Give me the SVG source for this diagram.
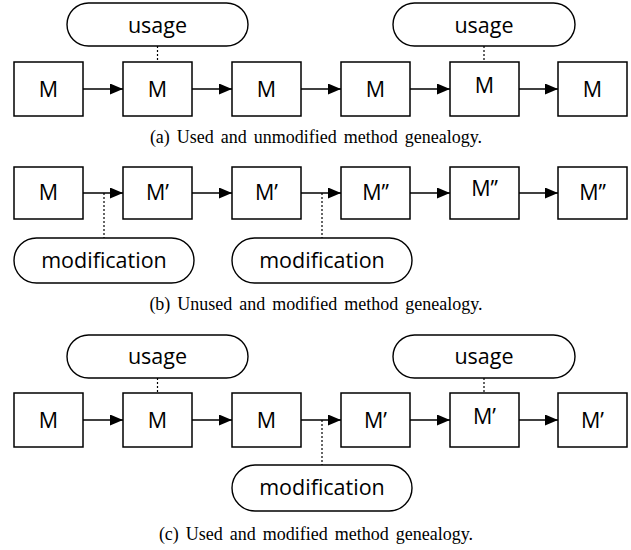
<svg xmlns="http://www.w3.org/2000/svg" width="631" height="550" viewBox="0 0 631 550">
<defs>
<style>
.box{fill:#fff;stroke:#000;stroke-width:1.5}
.pill{fill:#fff;stroke:#000;stroke-width:1.4}
.lbl{font-family:"Open Sans","DejaVu Sans",sans-serif;font-size:21.5px;fill:#000;text-anchor:middle}
.cap{font-family:"Liberation Serif","Times New Roman",serif;font-size:18px;fill:#000;text-anchor:middle;word-spacing:2.5px}
.arr{stroke:#000;stroke-width:1.5;fill:none;marker-end:url(#ah)}
.dash{stroke:#000;stroke-width:1.2;stroke-dasharray:2,2;fill:none}
</style>
<marker id="ah" markerWidth="13" markerHeight="11" refX="13" refY="5.5" orient="auto" markerUnits="userSpaceOnUse">
<path d="M0,0 L13,5.5 L0,11 Z" fill="#000"/>
</marker>
</defs>

<!-- Panel (a) -->
<g id="a-usage1"><rect class="pill" x="67" y="3" width="181" height="43" rx="21.5"/><text class="lbl" x="157.5" y="33">usage</text></g>
<g id="a-usage2"><rect class="pill" x="393" y="3" width="182" height="43" rx="21.5"/><text class="lbl" x="484" y="33">usage</text></g>
<g id="a-m1"><rect class="box" x="14" y="62" width="69" height="54"/><text class="lbl" x="48.5" y="97">M</text></g>
<g id="a-m2"><rect class="box" x="123" y="62" width="69" height="54"/><text class="lbl" x="157.5" y="97">M</text></g>
<g id="a-m3"><rect class="box" x="232" y="62" width="69" height="54"/><text class="lbl" x="266.5" y="97">M</text></g>
<g id="a-m4"><rect class="box" x="341" y="62" width="69" height="54"/><text class="lbl" x="375.5" y="97">M</text></g>
<g id="a-m5"><rect class="box" x="450" y="62" width="69" height="54"/><text class="lbl" x="484.5" y="93">M</text></g>
<g id="a-m6"><rect class="box" x="558" y="62" width="69" height="54"/><text class="lbl" x="592.5" y="97">M</text></g>
<text class="cap" x="316" y="143">(a) Used and unmodified method genealogy.</text>

<!-- Panel (b) -->
<g id="b-m1"><rect class="box" x="14" y="167" width="69" height="52"/><text class="lbl" x="48.5" y="200">M</text></g>
<g id="b-m2"><rect class="box" x="123" y="167" width="69" height="52"/><text class="lbl" x="157.5" y="200">M’</text></g>
<g id="b-m3"><rect class="box" x="232" y="167" width="69" height="52"/><text class="lbl" x="266.5" y="200">M’</text></g>
<g id="b-m4"><rect class="box" x="341" y="167" width="69" height="52"/><text class="lbl" x="375.5" y="200">M’’</text></g>
<g id="b-m5"><rect class="box" x="450" y="167" width="69" height="52"/><text class="lbl" x="484.5" y="196">M’’</text></g>
<g id="b-m6"><rect class="box" x="558" y="167" width="69" height="52"/><text class="lbl" x="592.5" y="200">M’’</text></g>
<g id="b-mod1"><rect class="pill" x="14" y="238" width="180" height="45" rx="22.5"/><text class="lbl" x="104" y="268">modification</text></g>
<g id="b-mod2"><rect class="pill" x="232" y="238" width="180" height="45" rx="22.5"/><text class="lbl" x="322" y="268">modification</text></g>
<text class="cap" x="316" y="310">(b) Unused and modified method genealogy.</text>

<!-- Panel (c) -->
<g id="c-usage1"><rect class="pill" x="67" y="335" width="181" height="43" rx="21.5"/><text class="lbl" x="157.5" y="364">usage</text></g>
<g id="c-usage2"><rect class="pill" x="393" y="335" width="182" height="43" rx="21.5"/><text class="lbl" x="484" y="364">usage</text></g>
<g id="c-m1"><rect class="box" x="14" y="393" width="69" height="54"/><text class="lbl" x="48.5" y="428">M</text></g>
<g id="c-m2"><rect class="box" x="123" y="393" width="69" height="54"/><text class="lbl" x="157.5" y="428">M</text></g>
<g id="c-m3"><rect class="box" x="232" y="393" width="69" height="54"/><text class="lbl" x="266.5" y="428">M</text></g>
<g id="c-m4"><rect class="box" x="341" y="393" width="69" height="54"/><text class="lbl" x="375.5" y="428">M’</text></g>
<g id="c-m5"><rect class="box" x="450" y="393" width="69" height="54"/><text class="lbl" x="484.5" y="424">M’</text></g>
<g id="c-m6"><rect class="box" x="558" y="393" width="69" height="54"/><text class="lbl" x="592.5" y="428">M’</text></g>
<g id="c-mod"><rect class="pill" x="232" y="465" width="180" height="46" rx="23"/><text class="lbl" x="322" y="495">modification</text></g>
<text class="cap" x="316" y="540">(c) Used and modified method genealogy.</text>

<g id="connectors">
<path class="arr" d="M83,89 H123"/>
<path class="arr" d="M192,89 H232"/>
<path class="arr" d="M301,89 H341"/>
<path class="arr" d="M410,89 H450"/>
<path class="arr" d="M519,89 H558"/>
<path class="dash" d="M157.5,46 V62"/>
<path class="dash" d="M484,46 V62"/>

<path class="arr" d="M83,193 H123"/>
<path class="arr" d="M192,193 H232"/>
<path class="arr" d="M301,193 H341"/>
<path class="arr" d="M410,193 H450"/>
<path class="arr" d="M519,193 H558"/>
<path class="dash" d="M104,193 V238"/>
<path class="dash" d="M322,193 V238"/>

<path class="arr" d="M83,420 H123"/>
<path class="arr" d="M192,420 H232"/>
<path class="arr" d="M301,420 H341"/>
<path class="arr" d="M410,420 H450"/>
<path class="arr" d="M519,420 H558"/>
<path class="dash" d="M157.5,378 V393"/>
<path class="dash" d="M484,378 V393"/>
<path class="dash" d="M322,420 V465"/>
</g>
</svg>
